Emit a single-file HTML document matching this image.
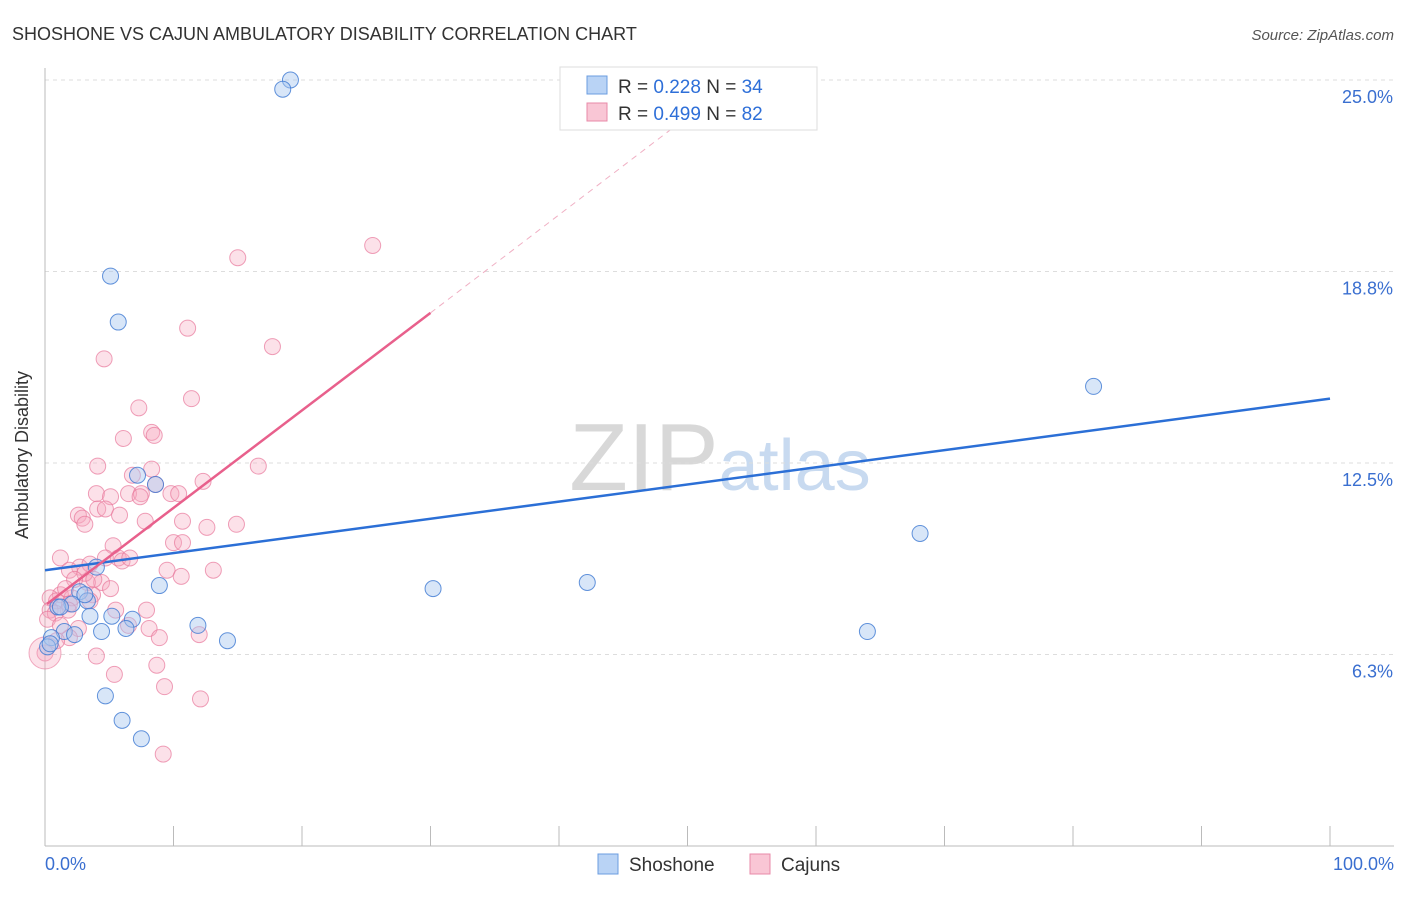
<!DOCTYPE html>
<html><head><meta charset="utf-8"><style>
body{margin:0;background:#fff;font-family:"Liberation Sans",sans-serif}
svg text{font-family:"Liberation Sans",sans-serif}
</style></head><body>
<svg id="c" width="1406" height="892" xmlns="http://www.w3.org/2000/svg">
<text x="12" y="40" font-size="18" fill="#333">SHOSHONE VS CAJUN AMBULATORY DISABILITY CORRELATION CHART</text>
<text x="1394" y="40" font-size="15" fill="#555" font-style="italic" text-anchor="end">Source: ZipAtlas.com</text>
<text x="720" y="490" font-size="96" fill="#ddd" text-anchor="middle" font-family="Liberation Serif"><tspan fill="#d8d8d8">ZIP</tspan><tspan fill="#c8daf0" font-family="Liberation Sans" font-size="72">atlas</tspan></text>
<g id="grid"></g><g id="axes"></g><g id="pts"></g><g id="lines"></g>
<text x="28" y="455" font-size="18" fill="#333" text-anchor="middle" transform="rotate(-90 28 455)">Ambulatory Disability</text>
<text x="45" y="870" font-size="18" fill="#3a6fd0">0.0%</text>
<text x="1394" y="870" font-size="18" fill="#3a6fd0" text-anchor="end">100.0%</text>
<g>
<rect x="560" y="67" width="257" height="63" fill="#fff" stroke="#ddd"/>
<rect x="587" y="76" width="20" height="18" fill="#b9d3f5" stroke="#6b9ce0"/>
<rect x="587" y="103" width="20" height="18" fill="#f9c6d5" stroke="#e88aa8"/>
<text x="618" y="93" font-size="19" fill="#333">R = <tspan fill="#2e6fd8">0.228</tspan>   N = <tspan fill="#2e6fd8">34</tspan></text>
<text x="618" y="120" font-size="19" fill="#333">R = <tspan fill="#2e6fd8">0.499</tspan>   N = <tspan fill="#2e6fd8">82</tspan></text>
</g>
<g>
<rect x="598" y="854" width="20" height="20" fill="#b9d3f5" stroke="#6b9ce0"/>
<text x="629" y="871" font-size="19" fill="#333">Shoshone</text>
<rect x="750" y="854" width="20" height="20" fill="#f9c6d5" stroke="#e88aa8"/>
<text x="781" y="871" font-size="19" fill="#333">Cajuns</text>
</g>
</svg>
<script>
const yTicks=[6.25,12.5,18.75,25];
const yTickLabels=["6.3%","12.5%","18.8%","25.0%"];
const shoX=[19.1,18.5,5.1,5.7,81.6,7.2,8.6,68.1,4.0,30.2,42.2,8.9,2.7,3.3,2.1,1.0,6.8,11.9,64.0,3.5,5.2,6.3,4.4,1.5,2.3,0.5,14.2,0.2,4.7,6.0,7.5,0.4,1.2,3.1];
const shoY=[25.0,24.7,18.6,17.1,15.0,12.1,11.8,10.2,9.1,8.4,8.6,8.5,8.3,8.0,7.9,7.8,7.4,7.2,7.0,7.5,7.5,7.1,7.0,7.0,6.9,6.8,6.7,6.5,4.9,4.1,3.5,6.6,7.8,8.2];
const cajX=[25.5,15.0,11.1,17.7,4.6,11.4,7.3,8.3,8.5,6.1,4.1,16.6,6.8,8.3,8.6,12.3,4.0,6.5,5.1,7.5,9.8,10.4,2.6,4.1,4.7,7.4,2.9,3.1,10.7,12.6,14.9,10.0,10.7,5.3,1.2,2.7,1.9,3.5,4.7,5.7,6.0,13.1,9.5,10.6,4.4,3.3,1.2,2.1,0.4,0.9,1.9,1.8,3.7,5.5,7.9,2.6,6.5,8.1,8.9,12.0,1.9,0.9,0,4.0,8.7,9.3,5.4,12.1,9.2,0.4,0.8,3.1,3.8,6.6,2.3,1.6,7.8,5.8,0.2,1.2,3.5,5.1];
const cajY=[19.6,19.2,16.9,16.3,15.9,14.6,14.3,13.5,13.4,13.3,12.4,12.4,12.1,12.3,11.8,11.9,11.5,11.5,11.4,11.5,11.5,11.5,10.8,11.0,11.0,11.4,10.7,10.5,10.6,10.4,10.5,9.9,9.9,9.8,9.4,9.1,9.0,9.2,9.4,9.4,9.3,9.0,9.0,8.8,8.6,8.6,8.2,8.1,8.1,8.0,7.9,7.7,8.2,7.7,7.7,7.1,7.2,7.1,6.8,6.9,6.8,6.7,6.3,6.2,5.9,5.2,5.6,4.8,3.0,7.7,7.6,8.9,8.7,9.4,8.7,8.4,10.6,10.8,7.4,7.2,8.0,8.4];
const shoLine=[[0,9.0],[100,14.6]];
const cajLine=[[0.15,7.9],[30,17.4]];
const cajDash=[[30,17.4],[52.5,24.6]];
const X=v=>45+v*12.85, Y=v=>846-v*30.64;
const NS="http://www.w3.org/2000/svg";
function mk(t,a,p){const e=document.createElementNS(NS,t);for(const k in a)e.setAttribute(k,a[k]);p.appendChild(e);return e;}
const g=document.getElementById('grid'),ax=document.getElementById('axes'),pts=document.getElementById('pts'),ln=document.getElementById('lines');
yTicks.forEach((t,i)=>{
 const l=mk('line',{x1:45,x2:1394,y1:Y(t),y2:Y(t),stroke:'#ddd','stroke-dasharray':'4 4'},g);
 
 
 const tx=mk('text',{x:1393,y:Y(t)+23,'font-size':18,fill:'#3a6fd0','text-anchor':'end'},g);
 tx.textContent=yTickLabels[i];
 
 
});
const yl=mk('line',{x1:45,x2:45,y1:68,y2:846,stroke:'#bbb'},ax);


const xl=mk('line',{x1:45,x2:1394,y1:846,y2:846,stroke:'#bbb'},ax);


for(let i=0;i<=10;i++){const t=mk('line',{x1:X(i*10),x2:X(i*10),y1:826,y2:846,stroke:'#bbb'},ax);
 
 }
cajX.forEach((v,i)=>{const c=mk('circle',{cx:X(v),cy:Y(cajY[i]),r:8,fill:'rgba(247,168,192,0.35)',stroke:'rgba(232,120,155,0.7)','stroke-width':1},pts);
 
 });
const big=mk('circle',{cx:X(0),cy:Y(6.3),r:16,fill:'rgba(247,168,192,0.35)',stroke:'rgba(232,120,155,0.6)'},pts);


shoX.forEach((v,i)=>{const c=mk('circle',{cx:X(v),cy:Y(shoY[i]),r:8,fill:'rgba(168,200,240,0.45)',stroke:'rgba(60,120,210,0.8)','stroke-width':1},pts);
 
 });
const sl=mk('line',{x1:X(shoLine[0][0]),y1:Y(shoLine[0][1]),x2:X(shoLine[1][0]),y2:Y(shoLine[1][1]),stroke:'#2b6fd6','stroke-width':2.5},ln);


const cl=mk('line',{x1:X(cajLine[0][0]),y1:Y(cajLine[0][1]),x2:X(cajLine[1][0]),y2:Y(cajLine[1][1]),stroke:'#e8608c','stroke-width':2.5},ln);


const cd=mk('line',{x1:X(cajDash[0][0]),y1:Y(cajDash[0][1]),x2:X(cajDash[1][0]),y2:Y(cajDash[1][1]),stroke:'#f0b0c4','stroke-width':1,'stroke-dasharray':'6 5'},ln);


</script>
</body></html>
